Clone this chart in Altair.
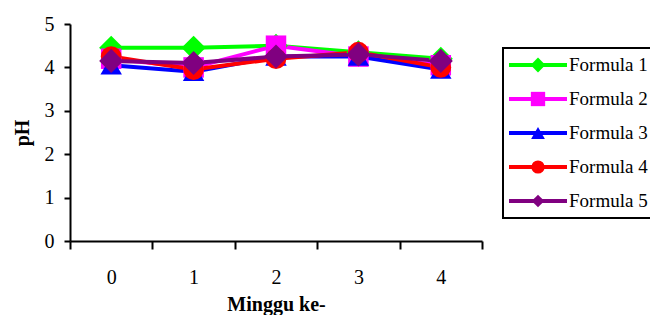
import altair as alt
import pandas as pd

weeks = [0, 1, 2, 3, 4]
series = ["Formula 1", "Formula 2", "Formula 3", "Formula 4", "Formula 5"]
f1 = [4.45, 4.45, 4.50, 4.35, 4.20]
f2 = [4.20, 4.00, 4.50, 4.25, 4.05]
f3 = [4.05, 3.90, 4.25, 4.25, 3.95]
f4 = [4.25, 3.95, 4.20, 4.35, 4.00]
f5 = [4.15, 4.10, 4.25, 4.30, 4.15]
y_ticks = [0, 1, 2, 3, 4, 5]

colors = ["#00FF00", "#FF00FF", "#0000FF", "#FF0000", "#800080"]
shapes = ["diamond", "square", "triangle-up", "circle", "diamond"]
sizes = [580, 420, 460, 430, 580]
legend_sizes = [220, 160, 190, 185, 220]

rows = []
for name, vals in zip(series, [f1, f2, f3, f4, f5]):
    for w, v in zip(weeks, vals):
        rows.append({"Minggu": w, "pH": v, "Formula": name})
df = pd.DataFrame(rows)
leg_df = pd.DataFrame({"Formula": series})

FONT = "Times New Roman"
FS = 20

x_enc = alt.X(
    "Minggu:O",
    title="Minggu ke-",
    scale=alt.Scale(type="band", paddingInner=0, paddingOuter=0),
    axis=alt.Axis(
        labelAngle=0, tickBand="extent", tickSize=8, labelPadding=18,
        titlePadding=7,
    ),
)
y_enc = alt.Y(
    "pH:Q",
    title="pH",
    scale=alt.Scale(domain=[0, 5], nice=False, zero=True),
    axis=alt.Axis(values=y_ticks, tickSize=6, labelPadding=10, grid=False,
                  titlePadding=12),
)
stroke_scale = alt.Scale(domain=series, range=colors)

base = alt.Chart(df)

lines = base.mark_line(strokeWidth=4).encode(
    x=x_enc,
    y=y_enc,
    stroke=alt.Stroke("Formula:N", scale=stroke_scale, legend=None),
)

point_layers = [
    base.transform_filter(alt.datum.Formula == name)
    .mark_point(filled=True, opacity=1, strokeWidth=0, shape=shp, size=sz,
                fill=col)
    .encode(x=x_enc, y=y_enc)
    for name, shp, sz, col in zip(series, shapes, sizes, colors)
]

main = alt.layer(lines, *point_layers)

# ---- legend, drawn with its own row scale ----
leg_y = alt.Y("Formula:N", scale=alt.Scale(type="point", domain=series,
                                            range=[41, 177], padding=0),
              axis=None)
leg_base = alt.Chart(leg_df)

leg_box = alt.Chart(pd.DataFrame({"box": [0]})).mark_rect(
    fill="white", stroke="black", strokeWidth=2
).encode(x=alt.value(433), x2=alt.value(620), y=alt.value(24), y2=alt.value(194))

leg_lines = leg_base.mark_rule(strokeWidth=4).encode(
    y=leg_y, x=alt.value(439), x2=alt.value(497),
    stroke=alt.Stroke("Formula:N", scale=stroke_scale, legend=None),
)

leg_marks = leg_base.mark_point(filled=True, opacity=1, strokeWidth=0).encode(
    y=leg_y, x=alt.value(468),
    fill=alt.Fill("Formula:N", scale=alt.Scale(domain=series, range=colors),
                  legend=None),
    shape=alt.Shape("Formula:N", scale=alt.Scale(domain=series, range=shapes),
                    legend=None),
    size=alt.Size("Formula:N", scale=alt.Scale(domain=series, range=legend_sizes),
                  legend=None),
)

leg_text = leg_base.mark_text(
    align="left", baseline="middle", font=FONT, fontSize=19, color="black"
).encode(y=leg_y, x=alt.value(499), text="Formula:N")

legend = alt.layer(leg_box, leg_lines, leg_marks, leg_text)

chart = (
    alt.layer(main, legend)
    .resolve_scale(y="independent")
    .properties(
        width=412, height=217,
        autosize=alt.AutoSizeParams(type="none"),
        padding={"left": 62, "top": 16, "right": 168, "bottom": 74},
        background="white",
    )
    .configure_view(strokeWidth=0)
    .configure_axis(
        domainColor="black", domainWidth=2, tickColor="black", tickWidth=2,
        labelFont=FONT, labelFontSize=FS, labelColor="black",
        titleFont=FONT, titleFontSize=FS, titleFontWeight="bold",
        titleColor="black",
    )
)

chart.save("out.html", embed_options={"renderer": "svg", "actions": False})
